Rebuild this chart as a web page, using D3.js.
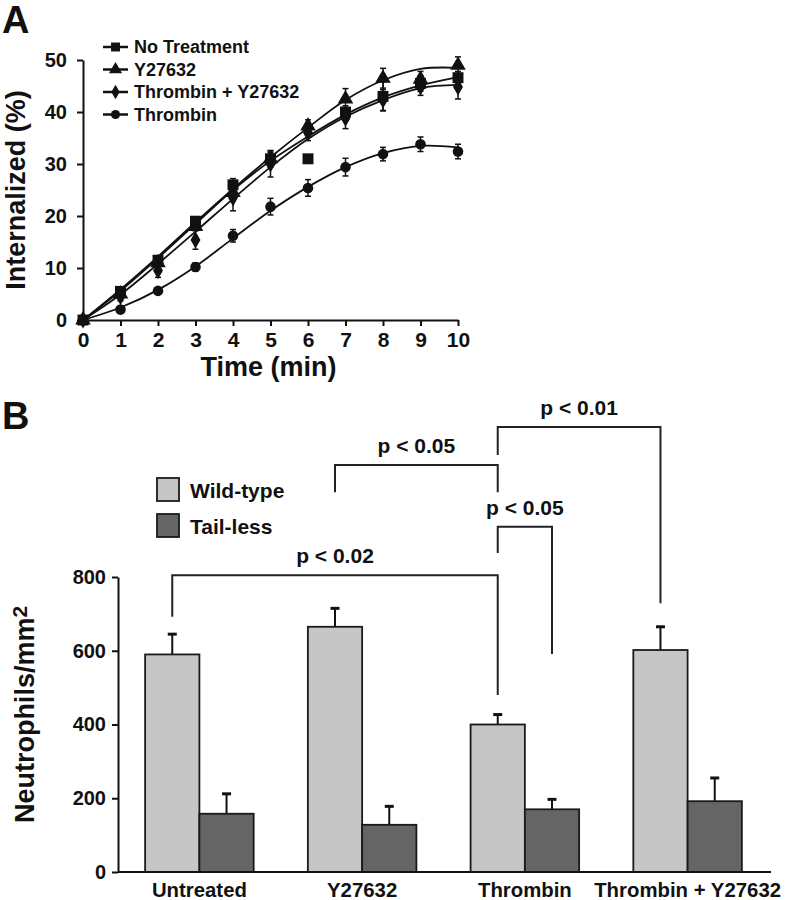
<!DOCTYPE html>
<html>
<head>
<meta charset="utf-8">
<script src="https://cdn.jsdelivr.net/npm/d3@7"></script>
<style>
  body { margin: 0; background: #fff; }
  svg { font-family: "Liberation Sans", Arial, sans-serif; font-weight: bold; }
  .axis path, .axis line { stroke: #111; stroke-width: 2; }
  .axis text { fill: #111; }
</style>
</head>
<body>
<div id="chart"></div>
<script>
// ---- panel A data ----
const times = [0, 1, 2, 3, 4, 5, 6, 7, 8, 9, 10];
const seriesNames = ["No Treatment", "Y27632", "Thrombin + Y27632", "Thrombin"];
const seriesSymbols = ["square", "triangle", "diamond", "circle"];
const noTreatment = [0, 5.5, 11.5, 19, 26, 31, 31, 40, 43, 45.5, 46.6];
const noTreatmentErr = [0, 0.5, 0.6, 0.8, 1.2, 1.6, 0, 1.2, 2.8, 1.5, 1.2];
const noTreatmentFit = [0, 5.6, 11.9, 18.5, 25, 30.6, 35.3, 39.5, 42.8, 45.1, 46.7];
const y27632 = [0, 5, 11, 18, 24.5, 31, 37.3, 42.5, 46.5, 46.3, 49];
const y27632Err = [0, 0.5, 0.8, 0.8, 1, 1.2, 1.2, 2, 1.9, 1.5, 1.6];
const y27632Fit = [0, 5.9, 12.2, 18.8, 25.2, 31.3, 37, 42.3, 46.1, 48.3, 48.5];
const thrombinY = [0, 4.5, 9.5, 15.4, 23.5, 30, 36, 38.8, 42.3, 44.8, 44.8];
const thrombinYErr = [0, 0.8, 1.3, 1.8, 2.5, 2.5, 1.5, 2, 2, 1.6, 2.3];
const thrombinYFit = [0, 4.9, 10.8, 17, 23.3, 29.4, 34.8, 39.1, 42.3, 44.6, 45.2];
const thrombin = [0, 2, 5.6, 10.2, 16.2, 21.8, 25.4, 29.4, 31.9, 33.8, 32.4];
const thrombinErr = [0, 0.4, 0.5, 0.8, 1.2, 1.6, 1.6, 1.7, 1.3, 1.4, 1.4];
const thrombinFit = [0, 2.4, 5.8, 10.3, 15.7, 21, 25.6, 29.4, 32.1, 33.5, 33.2];
const yTicksA = [0, 10, 20, 30, 40, 50];
const xTicksA = [0, 1, 2, 3, 4, 5, 6, 7, 8, 9, 10];

// ---- panel B data ----
const categories = ["Untreated", "Y27632", "Thrombin", "Thrombin + Y27632"];
const groups = ["Wild-type", "Tail-less"];
const wildType = [590, 665, 400, 602];
const wildTypeErr = [55, 50, 27, 63];
const tailLess = [158, 128, 170, 192];
const tailLessErr = [54, 50, 27, 63];
const yTicksB = [0, 200, 400, 600, 800];
const brackets = [
  { label: "p < 0.02", a: ["Untreated", "Wild-type"], b: ["Thrombin", "Wild-type"], top: 805, aEnd: 692, bEnd: 480 },
  { label: "p < 0.05", a: ["Thrombin", "Wild-type"], b: ["Thrombin", "Tail-less"], top: 936, aEnd: 865, bEnd: 591 },
  { label: "p < 0.05", a: ["Y27632", "Wild-type"], b: ["Thrombin", "Wild-type"], top: 1104, aEnd: 1030, bEnd: 1030 },
  { label: "p < 0.01", a: ["Thrombin", "Wild-type"], b: ["Thrombin + Y27632", "Wild-type"], top: 1207, aEnd: 1131, bEnd: 729 }
];

const width = 787;
const height = 900;
const ink = "#111";

const svg = d3.select("#chart").append("svg")
  .attr("width", width)
  .attr("height", height);

// ================= Panel A =================
const xA = d3.scaleLinear().domain([0, 10]).range([83, 458]);
const yA = d3.scaleLinear().domain([0, 50]).range([320, 60]);

svg.append("text").attr("x", 2).attr("y", 33).attr("font-size", 38).attr("fill", ink).text("A");

svg.append("g").attr("class", "axis")
  .attr("transform", "translate(0,320)")
  .call(d3.axisBottom(xA).tickValues(xTicksA).tickSize(6).tickPadding(6).tickSizeOuter(0))
  .selectAll("text").attr("font-size", 21);

svg.append("g").attr("class", "axis")
  .attr("transform", "translate(83,0)")
  .call(d3.axisLeft(yA).tickValues(yTicksA).tickSize(6).tickPadding(10).tickSizeOuter(0))
  .selectAll("text").attr("font-size", 20);

svg.selectAll(".axis").attr("font-family", null);

svg.append("text")
  .attr("x", xA(5) - 2).attr("y", 376)
  .attr("text-anchor", "middle").attr("font-size", 27).attr("fill", ink)
  .text("Time (min)");

svg.append("text")
  .attr("transform", `translate(25,${yA(25)}) rotate(-90)`)
  .attr("text-anchor", "middle").attr("font-size", 27).attr("fill", ink)
  .text("Internalized (%)");

const seriesA = [
  { name: seriesNames[0], sym: seriesSymbols[0], vals: noTreatment, err: noTreatmentErr, fit: noTreatmentFit },
  { name: seriesNames[1], sym: seriesSymbols[1], vals: y27632, err: y27632Err, fit: y27632Fit },
  { name: seriesNames[2], sym: seriesSymbols[2], vals: thrombinY, err: thrombinYErr, fit: thrombinYFit },
  { name: seriesNames[3], sym: seriesSymbols[3], vals: thrombin, err: thrombinErr, fit: thrombinFit }
];

const symbolFor = {
  square: d3.symbol().type(d3.symbolSquare).size(120),
  triangle: d3.symbol().type(d3.symbolTriangle).size(105),
  diamond: d3.symbol().type(d3.symbolDiamond).size(85),
  circle: d3.symbol().type(d3.symbolCircle).size(88)
};
const legendSymbol = {
  square: d3.symbol().type(d3.symbolSquare).size(80),
  triangle: d3.symbol().type(d3.symbolTriangle).size(75),
  diamond: d3.symbol().type(d3.symbolDiamond).size(60),
  circle: d3.symbol().type(d3.symbolCircle).size(65)
};

const fitLine = d3.line()
  .x((d, i) => xA(times[i]))
  .y(d => yA(d))
  .curve(d3.curveCatmullRom);

seriesA.forEach(s => {
  svg.append("path")
    .datum(s.fit)
    .attr("fill", "none")
    .attr("stroke", ink)
    .attr("stroke-width", 1.8)
    .attr("d", fitLine);

  const pts = times.map((t, i) => ({ t: t, v: s.vals[i], e: s.err[i] }));

  const eb = svg.append("g").attr("stroke", ink).attr("stroke-width", 1.5);
  pts.filter(d => d.e > 0).forEach(d => {
    eb.append("line").attr("x1", xA(d.t)).attr("x2", xA(d.t))
      .attr("y1", yA(d.v - d.e)).attr("y2", yA(d.v + d.e));
    [d.v - d.e, d.v + d.e].forEach(v => {
      eb.append("line").attr("x1", xA(d.t) - 3).attr("x2", xA(d.t) + 3)
        .attr("y1", yA(v)).attr("y2", yA(v));
    });
  });

  svg.selectAll(null)
    .data(pts)
    .enter()
    .append("path")
    .attr("transform", d => `translate(${xA(d.t)},${yA(d.v)})`)
    .attr("d", symbolFor[s.sym]())
    .attr("fill", ink);
});

// legend A
const legA = svg.append("g");
seriesA.forEach((s, i) => {
  const y = 47 + i * 22.5;
  legA.append("line").attr("x1", 103).attr("x2", 128).attr("y1", y).attr("y2", y)
    .attr("stroke", ink).attr("stroke-width", 2.5);
  legA.append("path").attr("transform", `translate(115.5,${y})`)
    .attr("d", legendSymbol[s.sym]()).attr("fill", ink);
  legA.append("text").attr("x", 134).attr("y", y).attr("dy", "0.36em")
    .attr("font-size", 18).attr("fill", ink).text(s.name);
});

// ================= Panel B =================
const x0 = d3.scaleBand().domain(categories).range([118, 769]).paddingInner(0.333).paddingOuter(0.1667);
const x1 = d3.scaleBand().domain(groups).range([0, x0.bandwidth()]);
const yB = d3.scaleLinear().domain([0, 800]).range([872, 577]);
const fills = d3.scaleOrdinal().domain(groups).range(["#c6c6c6", "#656565"]);

svg.append("text").attr("x", 2).attr("y", 429).attr("font-size", 38).attr("fill", ink).text("B");

const barData = [];
categories.forEach((c, i) => {
  barData.push({ cat: c, grp: groups[0], v: wildType[i], e: wildTypeErr[i] });
  barData.push({ cat: c, grp: groups[1], v: tailLess[i], e: tailLessErr[i] });
});

// error bars (drawn under bars)
const ebB = svg.append("g").attr("stroke", ink).attr("stroke-width", 2);
barData.forEach(d => {
  const cx = x0(d.cat) + x1(d.grp) + x1.bandwidth() / 2;
  ebB.append("line").attr("x1", cx).attr("x2", cx).attr("y1", yB(d.v)).attr("y2", yB(d.v + d.e));
  ebB.append("line").attr("x1", cx - 4.5).attr("x2", cx + 4.5)
    .attr("y1", yB(d.v + d.e)).attr("y2", yB(d.v + d.e)).attr("stroke-width", 3);
});

svg.selectAll(".bar")
  .data(barData)
  .enter()
  .append("rect")
  .attr("class", "bar")
  .attr("x", d => x0(d.cat) + x1(d.grp))
  .attr("y", d => yB(d.v))
  .attr("width", x1.bandwidth())
  .attr("height", d => yB(0) - yB(d.v))
  .attr("fill", d => fills(d.grp))
  .attr("stroke", "#1a1a1a")
  .attr("stroke-width", 1.8);

svg.append("g").attr("class", "axis")
  .attr("transform", "translate(0,872)")
  .call(d3.axisBottom(x0).tickSize(0).tickPadding(10).tickSizeOuter(0))
  .call(g => g.select(".domain").attr("d", "M118,0H771"))
  .selectAll("text").attr("font-size", 21).attr("transform", "scale(0.97,1)");

svg.append("g").attr("class", "axis")
  .attr("transform", "translate(118,0)")
  .call(d3.axisLeft(yB).tickValues(yTicksB).tickSize(6).tickPadding(6).tickSizeOuter(0))
  .selectAll("text").attr("font-size", 20);

svg.selectAll(".axis").attr("font-family", null);

const yTitle = svg.append("text")
  .attr("transform", `translate(34,${yB(400) - 10}) rotate(-90)`)
  .attr("text-anchor", "middle").attr("font-size", 27).attr("fill", ink);
yTitle.append("tspan").text("Neutrophils/mm");
yTitle.append("tspan").attr("dy", -7).attr("font-size", 21).text("2");

// legend B
const legB = svg.append("g");
groups.forEach((g, i) => {
  const y = 478 + i * 36;
  legB.append("rect").attr("x", 157).attr("y", y).attr("width", 22).attr("height", 23)
    .attr("fill", fills(g)).attr("stroke", "#1a1a1a").attr("stroke-width", 1.8);
  legB.append("text").attr("x", 190).attr("y", y + 12)
    .attr("dy", "0.36em").attr("font-size", 21).attr("fill", ink).text(g);
});

// significance brackets
const bx = k => x0(k[0]) + x1(k[1]) + x1.bandwidth() / 2;
const brG = svg.append("g");
brackets.forEach(b => {
  const xa = bx(b.a), xb = bx(b.b);
  brG.append("path")
    .attr("d", `M${xa},${yB(b.aEnd)}V${yB(b.top)}H${xb}V${yB(b.bEnd)}`)
    .attr("fill", "none").attr("stroke", "#222").attr("stroke-width", 2);
  brG.append("text")
    .attr("x", (xa + xb) / 2).attr("y", yB(b.top) - 12)
    .attr("text-anchor", "middle").attr("font-size", 21).attr("fill", ink)
    .text(b.label);
});
</script>
</body>
</html>
